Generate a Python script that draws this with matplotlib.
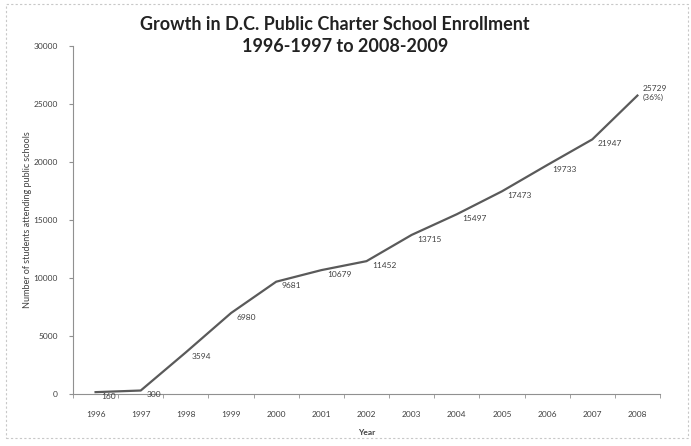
import numpy as np
import matplotlib
matplotlib.use("Agg")
import matplotlib.pyplot as plt
from matplotlib.patches import Rectangle

# enrollment by school year (start year)
years = ["1996", "1997", "1998", "1999", "2000", "2001", "2002",
         "2003", "2004", "2005", "2006", "2007", "2008"]
enrollment = [160, 300, 3594, 6980, 9681, 10679, 11452,
              13715, 15497, 17473, 19733, 21947, 25729]
last_note = "(36%)"
y_ticks = [0, 5000, 10000, 15000, 20000, 25000, 30000]

plt.rcParams['font.family'] = ['Lato', 'DejaVu Sans']

fig = plt.figure(figsize=(6.91, 4.46), dpi=100)
ax = fig.add_axes([73 / 691, 1 - 394 / 446, (660 - 73) / 691, (394 - 46) / 446])

# faint frame around the whole chart, like the pasted excel box
fig.patches.append(Rectangle((6 / 691, 1 - 438 / 446), 682 / 691, 434 / 446,
                             transform=fig.transFigure, fill=False,
                             edgecolor='#c8c8c8', linewidth=0.8, linestyle=(0, (2, 2))))

x = np.arange(len(years))
ax.plot(x, enrollment, color='#5a5a5a', linewidth=1.6)

for i, v in enumerate(enrollment):
    label = str(v)
    if i == len(enrollment) - 1:
        label = f"{v}\n{last_note}"
        ax.annotate(label, (x[i], v), xytext=(4, 2), textcoords='offset points',
                    ha='left', va='center', fontsize=6, color='#404040',
                    linespacing=1.3)
    else:
        ax.annotate(label, (x[i], v), xytext=(4, -3), textcoords='offset points',
                    ha='left', va='center', fontsize=6, color='#404040')

ax.set_xlim(-0.5, len(years) - 0.5)
ax.set_ylim(0, 30000)
ax.set_xticks(x)
ax.set_xticklabels(years)
ax.set_xticks(np.arange(-0.5, len(years)), minor=True)
ax.set_yticks(y_ticks)
ax.set_yticklabels([str(t) for t in y_ticks])

ax.tick_params(axis='x', which='major', length=0, pad=12, labelsize=6, labelcolor='#404040')
ax.tick_params(axis='x', which='minor', length=3, color='#909090', direction='out')
ax.tick_params(axis='y', length=3, color='#909090', labelsize=6, labelcolor='#404040', pad=8)

for side in ['top', 'right']:
    ax.spines[side].set_visible(False)
for side in ['left', 'bottom']:
    ax.spines[side].set_color('#909090')
    ax.spines[side].set_linewidth(0.8)

ax.set_ylabel("Number of students attending public schools", fontsize=6.5,
              color='#404040', labelpad=1)
ax.set_xlabel("Year", fontsize=6, fontweight='bold', color='#404040', labelpad=8)

fig.text(0.485, 1 - 25 / 446, "Growth in D.C. Public Charter School Enrollment",
         ha='center', va='center', fontsize=13, fontweight='bold', color='#222222')
fig.text(0.5, 1 - 46 / 446, "1996-1997 to 2008-2009",
         ha='center', va='center', fontsize=13, fontweight='bold', color='#222222')

fig.savefig("out.png", dpi=100)
